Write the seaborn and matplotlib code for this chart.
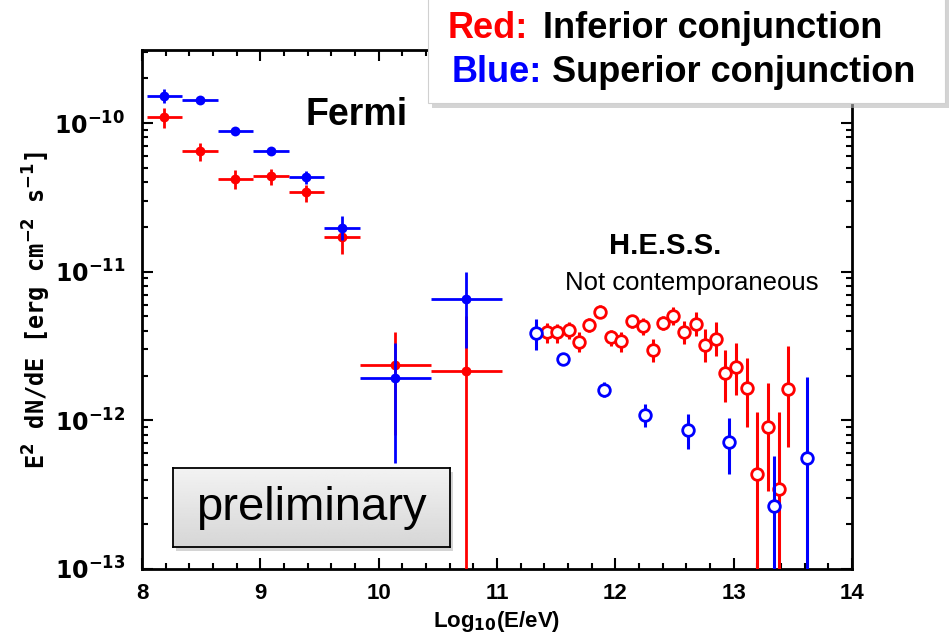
import numpy as np
import pandas as pd
import matplotlib
matplotlib.use('Agg')
import matplotlib.pyplot as plt
from matplotlib.patches import Rectangle
from matplotlib.ticker import FixedLocator, MultipleLocator, NullFormatter, FuncFormatter
import seaborn as sns

# Fermi-LAT bins (log10 E), half-width 0.15
fermi_x = [8.19, 8.49, 8.79, 9.09, 9.39, 9.69]
fermi_red = [1.09e-10, 6.5e-11, 4.2e-11, 4.4e-11, 3.46e-11, 1.71e-11]
fermi_red_hi = [1.26e-10, 7.34e-11, 4.84e-11, 4.91e-11, 3.84e-11, 1.91e-11]
fermi_red_lo = [9.25e-11, 5.56e-11, 3.61e-11, 3.84e-11, 2.95e-11, 1.32e-11]
fermi_blue = [1.52e-10, 1.42e-10, 8.8e-11, 6.5e-11, 4.33e-11, 1.98e-11]
fermi_blue_hi = [1.69e-10, 1.50e-10, 9.3e-11, 6.9e-11, 4.76e-11, 2.38e-11]
fermi_blue_lo = [1.36e-10, 1.34e-10, 8.3e-11, 6.1e-11, 3.90e-11, 1.64e-11]

# wide high-energy Fermi bins, half-width 0.30
wide_x = [10.14, 10.74]
wide_red = [2.35e-12, 2.14e-12]
wide_red_hi = [3.95e-12, 5.0e-12]
wide_red_lo = [8.0e-13, 1e-14]
wide_blue = [1.94e-12, 6.52e-12]
wide_blue_hi = [3.33e-12, 1.0e-11]
wide_blue_lo = [5.14e-13, 3.09e-12]

# H.E.S.S. points
hess_red_x = [11.42, 11.51, 11.61, 11.69, 11.78, 11.87, 11.96, 12.05, 12.14, 12.23, 12.32, 12.40,
              12.49, 12.58, 12.68, 12.76, 12.85, 12.93, 13.02, 13.11, 13.20, 13.29, 13.38, 13.46]
hess_red = [3.93e-12, 3.93e-12, 4.04e-12, 3.39e-12, 4.36e-12, 5.37e-12, 3.61e-12, 3.43e-12,
            4.67e-12, 4.30e-12, 2.98e-12, 4.53e-12, 5.01e-12, 3.93e-12, 4.46e-12, 3.21e-12,
            3.55e-12, 2.09e-12, 2.29e-12, 1.66e-12, 4.35e-13, 9.03e-13, 3.44e-13, 1.63e-12]
hess_red_hi = [4.55e-12, 4.48e-12, 4.57e-12, 3.90e-12, 4.91e-12, 6.01e-12, 4.08e-12, 3.90e-12,
               5.14e-12, 4.91e-12, 3.55e-12, 5.01e-12, 5.82e-12, 4.64e-12, 5.33e-12, 4.14e-12,
               4.57e-12, 2.96e-12, 3.32e-12, 2.61e-12, 1.14e-12, 1.77e-12, 1.13e-12, 3.18e-12]
hess_red_lo = [3.33e-12, 3.33e-12, 3.50e-12, 2.90e-12, 3.90e-12, 4.99e-12, 3.16e-12, 2.90e-12,
               4.21e-12, 3.78e-12, 2.45e-12, 4.08e-12, 4.41e-12, 3.24e-12, 3.68e-12, 2.45e-12,
               2.70e-12, 1.33e-12, 1.47e-12, 9.08e-13, 1e-14, 3.36e-13, 1e-14, 6.65e-13]
hess_blue_x = [11.33, 11.56, 11.90, 12.25, 12.61, 12.96, 13.34, 13.62]
hess_blue = [3.87e-12, 2.59e-12, 1.61e-12, 1.09e-12, 8.6e-13, 7.15e-13, 2.66e-13, 5.56e-13]
hess_blue_hi = [4.82e-12, 2.77e-12, 1.80e-12, 1.28e-12, 1.11e-12, 1.03e-12, 5.75e-13, 1.96e-12]
hess_blue_lo = [2.97e-12, 2.38e-12, 1.43e-12, 8.97e-13, 6.38e-13, 4.35e-13, 1e-14, 1e-14]

y_major = [1e-13, 1e-12, 1e-11, 1e-10]

RED = '#ff0000'
BLUE = '#0000ff'

sns.set_style('ticks')
plt.rcParams['font.family'] = ['Liberation Sans', 'DejaVu Sans']
plt.rcParams['text.color'] = 'black'
plt.rcParams['axes.labelcolor'] = 'black'
plt.rcParams['xtick.color'] = 'black'
plt.rcParams['ytick.color'] = 'black'

W, H = 950, 635
fig = plt.figure(figsize=(9.5, 6.35), dpi=100)
ax = fig.add_axes([142 / W, 1 - 569 / H, 710 / W, 519 / H])


def yerr(y, lo, hi):
    y = np.array(y)
    return [y - np.array(lo), np.array(hi) - y]


def filled(x, y, lo, hi, xerr, color, z):
    ax.errorbar(x, y, xerr=xerr, yerr=yerr(y, lo, hi), fmt='none', ecolor=color,
                elinewidth=2.0, capsize=0, zorder=z)
    sns.scatterplot(x=x, y=y, color=color, s=50, edgecolor=color, linewidth=0,
                    ax=ax, zorder=z + 0.5, legend=False)


def hollow(x, y, lo, hi, color, z):
    ax.errorbar(x, y, yerr=yerr(y, lo, hi), fmt='none', ecolor=color,
                elinewidth=2.2, capsize=0, zorder=z)
    sns.scatterplot(x=x, y=y, facecolor='white', edgecolor=color, s=70, linewidth=2.0,
                    ax=ax, zorder=z + 0.5, legend=False)


filled(fermi_x, fermi_red, fermi_red_lo, fermi_red_hi, 0.15, RED, 3)
filled(wide_x, wide_red, wide_red_lo, wide_red_hi, 0.30, RED, 3)
hollow(hess_red_x, hess_red, hess_red_lo, hess_red_hi, RED, 3)
filled(fermi_x, fermi_blue, fermi_blue_lo, fermi_blue_hi, 0.15, BLUE, 5)
filled(wide_x, wide_blue, wide_blue_lo, wide_blue_hi, 0.30, BLUE, 5)
hollow(hess_blue_x, hess_blue, hess_blue_lo, hess_blue_hi, BLUE, 5)

ax.set_yscale('log')
ax.set_xlim(8, 14)
ax.set_ylim(1e-13, 3.1e-10)
ax.xaxis.set_major_locator(MultipleLocator(1))
ax.xaxis.set_minor_locator(MultipleLocator(0.2))
ax.yaxis.set_major_locator(FixedLocator(y_major))
minor = [m * d for d in y_major for m in range(2, 10) if m * d < 3.1e-10]
ax.yaxis.set_minor_locator(FixedLocator(minor))
ax.yaxis.set_minor_formatter(NullFormatter())
ax.yaxis.set_major_formatter(FuncFormatter(
    lambda v, p: r'$\mathbf{10^{%d}}$' % int(round(np.log10(v)))))
ax.tick_params(which='both', direction='in', top=True, right=True, width=1.5, colors='black')
ax.tick_params(which='major', length=8)
ax.tick_params(which='minor', length=4)
ax.tick_params(axis='x', which='major', pad=10, labelsize=16)
ax.tick_params(axis='y', which='major', pad=12, labelsize=17)
for lab in ax.get_xticklabels():
    lab.set_fontweight('bold')
for s in ax.spines.values():
    s.set_linewidth(2.0)
    s.set_color('black')

ax.set_xlabel(r'Log$_{\mathbf{10}}$(E/eV)', fontsize=16, fontweight='bold', labelpad=4)
ax.set_ylabel(r'E$^{\mathbf{2}}$ dN/dE [erg cm$^{\mathbf{-2}}$ s$^{\mathbf{-1}}$]',
              fontsize=17, fontweight='bold', family='DejaVu Sans Mono', labelpad=1)

# in-plot annotations
fig.text(306 / W, 1 - 115 / H, 'Fermi', fontsize=27, fontweight='bold', ha='left', va='center')
fig.text(665 / W, 1 - 246 / H, 'H.E.S.S.', fontsize=21, fontweight='bold', ha='center', va='center')
fig.text(692 / W, 1 - 283 / H, 'Not contemporaneous', fontsize=18.5, ha='center', va='center')

# legend box with shadow
fig.patches.append(Rectangle((432 / W, 1 - 108 / H), 517 / W, 108 / H, transform=fig.transFigure,
                             facecolor='#b8b8b8', edgecolor='none', alpha=0.6, zorder=8))
fig.patches.append(Rectangle((428 / W, 1 - 103 / H), 517 / W, 110 / H, transform=fig.transFigure,
                             facecolor='white', edgecolor='#d0d0d0', linewidth=0.8, zorder=9))
fig.text(448 / W, 1 - 28 / H, 'Red:', color=RED, fontsize=26, fontweight='bold', va='center', zorder=10)
fig.text(543 / W, 1 - 28 / H, 'Inferior conjunction', fontsize=26, fontweight='bold', va='center', zorder=10)
fig.text(452 / W, 1 - 73 / H, 'Blue:', color=BLUE, fontsize=26, fontweight='bold', va='center', zorder=10)
fig.text(552 / W, 1 - 73 / H, 'Superior conjunction', fontsize=26, fontweight='bold', va='center', zorder=10)

# "preliminary" box
fig.patches.append(Rectangle((176 / W, 1 - 551 / H), 277 / W, 79 / H, transform=fig.transFigure,
                             facecolor='#a0a0a0', edgecolor='none', alpha=0.45, zorder=8))
bx = fig.add_axes([173 / W, 1 - 547 / H, 277 / W, 79 / H], zorder=9)
grad = np.linspace(0.95, 0.84, 64).reshape(-1, 1)
bx.imshow(grad, aspect='auto', cmap='gray', vmin=0, vmax=1, extent=[0, 1, 0, 1])
bx.set_xticks([])
bx.set_yticks([])
for s in bx.spines.values():
    s.set_linewidth(1.3)
    s.set_color('black')
bx.text(0.5, 0.5, 'preliminary', fontsize=34, ha='center', va='center', transform=bx.transAxes)

fig.savefig('out.png', dpi=100)
